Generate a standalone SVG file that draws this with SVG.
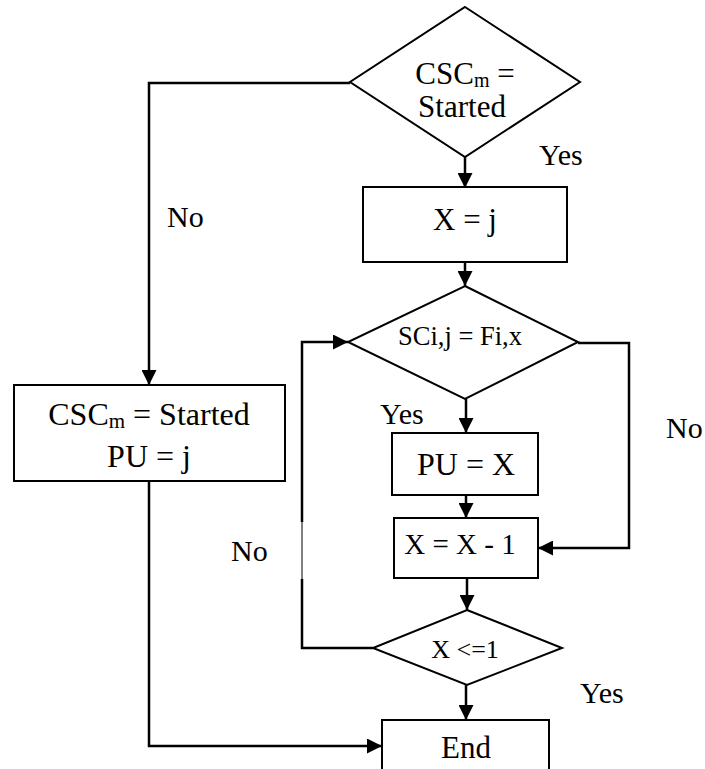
<svg xmlns="http://www.w3.org/2000/svg" width="705" height="769" viewBox="0 0 705 769">
  <style>
    .shape { fill: #ffffff; stroke: #000000; stroke-width: 2; }
    .wire { fill: none; stroke: #000000; stroke-width: 2.5; }
    .thin { fill: none; stroke: #000000; stroke-width: 1; }
    .c { text-anchor: middle; }
  </style>
  <defs>
    <marker id="arrow" markerUnits="userSpaceOnUse" markerWidth="15" markerHeight="15" refX="15" refY="7.5" orient="auto">
      <path d="M0,0 L15,7.5 L0,15 z" fill="#000000"/>
    </marker>
  </defs>

  <rect width="705" height="769" fill="#ffffff"/>

  <!-- connectors -->
  <g id="connectors">
    <!-- start decision: Yes -> X = j -->
    <line class="wire" x1="465" y1="157" x2="465" y2="188" marker-end="url(#arrow)"/>
    <!-- start decision: No -> left box -->
    <polyline class="wire" points="350,83 149,83 149,385" marker-end="url(#arrow)"/>
    <!-- X = j -> SC decision -->
    <line class="wire" x1="465" y1="262" x2="465" y2="286" marker-end="url(#arrow)"/>
    <!-- SC decision: Yes -> PU = X -->
    <line class="wire" x1="466" y1="399" x2="466" y2="433" marker-end="url(#arrow)"/>
    <!-- SC decision: No -> X = X - 1 -->
    <polyline class="wire" points="578,343 629,343 629,548 538,548" marker-end="url(#arrow)"/>
    <!-- PU = X -> X = X - 1 -->
    <line class="wire" x1="466" y1="495" x2="466" y2="518" marker-end="url(#arrow)"/>
    <!-- X = X - 1 -> X <=1 -->
    <line class="wire" x1="467" y1="578" x2="467" y2="610" marker-end="url(#arrow)"/>
    <!-- X <=1: Yes -> End -->
    <line class="wire" x1="466" y1="685" x2="466" y2="720" marker-end="url(#arrow)"/>
    <!-- X <=1: No -> back to SC decision -->
    <polyline class="wire" points="373,648 302,648 302,579"/>
    <line class="thin" x1="302" y1="579" x2="302" y2="522"/>
    <polyline class="wire" points="302,522 302,342 348,342" marker-end="url(#arrow)"/>
    <!-- left box -> End -->
    <polyline class="wire" points="149,481 149,746 382,746" marker-end="url(#arrow)"/>
  </g>

  <!-- nodes -->
  <g id="start-decision">
    <polygon class="shape" points="465,7 580,82 465,157 350,82"/>
    <text class="c" x="465" y="84" font-family="Liberation Serif, serif" font-size="31">CSC<tspan font-size="20" dy="3">m</tspan><tspan dy="-3"> =</tspan></text>
    <text class="c" x="462" y="117" font-family="Liberation Serif, serif" font-size="31">Started</text>
  </g>

  <g id="set-x">
    <rect class="shape" x="363" y="187" width="204" height="75"/>
    <text class="c" x="465" y="230" font-family="Liberation Serif, serif" font-size="31">X = j</text>
  </g>

  <g id="sc-decision">
    <polygon class="shape" points="465,286 578,342 465,399 348,342"/>
    <text class="c" x="460" y="345" font-family="Liberation Serif, serif" font-size="26.5">SCi,j = Fi,x</text>
  </g>

  <g id="set-pu-x">
    <rect class="shape" x="392" y="433" width="146" height="62"/>
    <text class="c" x="466" y="475" font-family="Liberation Serif, serif" font-size="32">PU = X</text>
  </g>

  <g id="decrement">
    <rect class="shape" x="394" y="518" width="144" height="60"/>
    <text class="c" x="460" y="554" font-family="Liberation Serif, serif" font-size="29">X = X - 1</text>
  </g>

  <g id="x-decision">
    <polygon class="shape" points="467,610 562,648 467,685 373,648"/>
    <text class="c" x="465" y="658" font-family="Liberation Serif, serif" font-size="26">X &lt;=1</text>
  </g>

  <g id="start-box">
    <rect class="shape" x="14" y="385" width="271" height="96"/>
    <text class="c" x="149" y="425" font-family="Liberation Serif, serif" font-size="32">CSC<tspan font-size="21" dy="3">m</tspan><tspan dy="-3"> = Started</tspan></text>
    <text class="c" x="149" y="467" font-family="Liberation Serif, serif" font-size="32">PU = j</text>
  </g>

  <g id="end">
    <rect class="shape" x="382" y="720" width="167" height="60"/>
    <text class="c" x="466" y="758" font-family="Liberation Serif, serif" font-size="31">End</text>
  </g>

  <!-- branch labels -->
  <g id="labels">
    <text x="539" y="165" font-family="Liberation Serif, serif" font-size="30">Yes</text>
    <text x="167" y="227" font-family="Liberation Serif, serif" font-size="30">No</text>
    <text x="380" y="424" font-family="Liberation Serif, serif" font-size="30">Yes</text>
    <text x="666" y="438" font-family="Liberation Serif, serif" font-size="30">No</text>
    <text x="231" y="561" font-family="Liberation Serif, serif" font-size="30">No</text>
    <text x="580" y="703" font-family="Liberation Serif, serif" font-size="30">Yes</text>
  </g>
</svg>
